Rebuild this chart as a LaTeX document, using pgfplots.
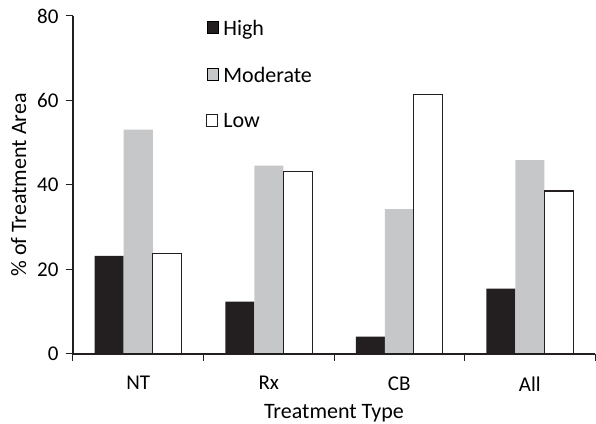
\documentclass[border=0pt]{standalone}
\usepackage{pgfplots}
\pgfplotsset{compat=1.18}
\usepackage{fontspec}
\setmainfont{Carlito}
\definecolor{hi}{RGB}{35,31,32}
\definecolor{mod}{RGB}{198,199,201}
\begin{document}
\begin{tikzpicture}[font=\fontsize{21}{25}\selectfont]
  \begin{axis}[
      name=ax,
      scale only axis,
      width=522pt, height=338pt,
      axis lines=left,
      axis line style={-, line width=1.3pt, color=hi},
      ymin=0, ymax=80,
      ytick={0,20,...,80},
      xmin=-0.5, xmax=3.5,
      xtick={0,1,2,3},
      xticklabels={NT,Rx,CB,All},
      minor xtick={-0.5,0.5,...,3.5},
      major x tick style={draw=none},
      tick align=outside,
      major tick length=7pt, minor tick length=7pt,
      every tick/.style={line width=1pt, color=hi},
      tick label style={font=\fontsize{21}{25}\selectfont},
      label style={font=\fontsize{22}{26}\selectfont},
      xticklabel style={yshift=-12pt},
      yticklabel style={xshift=-4pt},
      /pgf/number format/assume math mode=true,
      ylabel={\% of Treatment Area},
      xlabel={Treatment Type},
      ylabel style={yshift=4pt},
      xlabel style={yshift=-6pt},
      ybar=0pt,
      bar width=29pt,
      axis on top,
      legend cell align=left,
      legend style={draw=none, fill=none, at={(0.249,1.0)}, anchor=north west,
        row sep=26pt, font=\fontsize{22}{26}\selectfont,
        /tikz/every odd column/.append style={column sep=3pt}},
      legend image code/.code={\draw[#1] (0pt,-5pt) rectangle (11pt,7pt);},
    ]
    \addplot[fill=hi, draw=none] coordinates {(0,23.2) (1,12.4) (2,4.1) (3,15.5)};
    \addplot[fill=mod, draw=none] coordinates {(0,53.1) (1,44.6) (2,34.3) (3,45.9)};
    \addplot[fill=white, draw=hi, line width=1.2pt] coordinates {(0,23.7) (1,43.2) (2,61.5) (3,38.6)};
    \legend{High, Moderate, Low}
  \end{axis}
  \pgfresetboundingbox
  \path ([shift={(-73pt,-70pt)}]ax.south west) rectangle ([shift={(1pt,16pt)}]ax.north east);
\end{tikzpicture}
\end{document}
